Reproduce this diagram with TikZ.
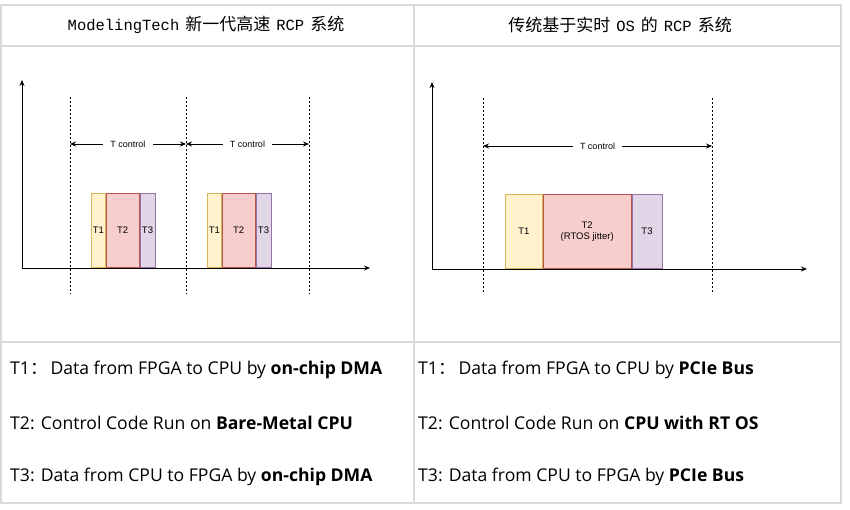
\documentclass[tikz,border=0pt]{standalone}
\usepackage{fontspec}
\setmainfont{Open Sans}
\newfontfamily\cjk{Noto Sans CJK SC}
\newfontfamily\latinmono{Liberation Mono}
\newfontfamily\diafont{Liberation Sans}
\usetikzlibrary{arrows.meta,positioning}

\definecolor{tonefill}{HTML}{FFF2CC}
\definecolor{toneline}{HTML}{D6B656}
\definecolor{ttwofill}{HTML}{F8CECC}
\definecolor{ttwoline}{HTML}{B85450}
\definecolor{tthreefill}{HTML}{E1D5E7}
\definecolor{tthreeline}{HTML}{9673A6}
\definecolor{cellline}{HTML}{D9D9D9}

% header pieces: monospaced latin, CJK a bit larger
\newcommand{\hdlatin}[1]{{\latinmono\fontsize{15.5}{18}\selectfont #1}}
\newcommand{\hdcjk}[1]{{\cjk\fontsize{17}{18}\selectfont #1}}

\tikzset{
  cell/.style={draw=cellline, line width=1.2pt},
  axis/.style={-{Stealth[length=6pt,width=5pt]}, line width=0.8pt},
  period/.style={dash pattern=on 2pt off 2pt, line width=0.7pt},
  tspan/.style={{Stealth[length=6pt,width=5pt]}-{Stealth[length=6pt,width=5pt]}, line width=0.7pt},
  spanlabel/.style={fill=white, inner xsep=7pt, inner ysep=1pt, font=\diafont\fontsize{9}{10}\selectfont},
  phase/.style={line width=0.8pt, anchor=south west, minimum height=74pt, inner sep=0pt,
    font=\diafont\fontsize{9.5}{11}\selectfont, align=center},
  phaseone/.style={phase, fill=tonefill, draw=toneline},
  phasetwo/.style={phase, fill=ttwofill, draw=ttwoline},
  phasethree/.style={phase, fill=tthreefill, draw=tthreeline},
  head/.style={inner sep=0pt},
  note/.style={anchor=west, inner sep=0pt, font=\fontsize{17.6}{20}\selectfont},
}

\begin{document}
\begin{tikzpicture}[x=1pt, y=-1pt]
    \useasboundingbox (0,0) rectangle (850,509);

    % Table frame
    \draw[cell] (1,5) rectangle (841,503);
    \draw[cell] (1,46) -- (841,46);
    \draw[cell] (1,342) -- (841,342);
    \draw[cell] (414,5) -- (414,503);

    % Column headers
    \node[head] (headleft) at (206,25)
        {\hdlatin{ModelingTech}\hspace{6pt}\hdcjk{新一代高速}\hspace{6pt}\hdlatin{RCP}\hspace{6pt}\hdcjk{系统}};
    \node[head] (headright) at (620,25)
        {\hdcjk{传统基于实时}\hspace{6pt}\hdlatin{OS}\hspace{6pt}\hdcjk{的}\hspace{6pt}\hdlatin{RCP}\hspace{6pt}\hdcjk{系统}};

    % Left timing diagram
    \coordinate (ol) at (22,268);
    \coordinate (yl) at (22,80);
    \coordinate (xl) at (370,268);
    \draw[axis] (ol) -- (yl);
    \draw[axis] (ol) -- (xl);

    \foreach \name/\x in {da/70, db/186, dc/309} {
        \coordinate (\name top) at (\x,97);
        \coordinate (\name bot) at (\x,294);
        \coordinate (\name mid) at (\x,144);
        \draw[period] (\name top) -- (\name bot);
    }
    \draw[tspan] (damid) -- (dbmid) node[midway, spanlabel] (spanl1) {T control};
    \draw[tspan] (dbmid) -- (dcmid) node[midway, spanlabel] (spanl2) {T control};

    % Two cycles: T1 / T2 / T3
    \foreach \i/\x in {1/91, 2/207} {
        \node[phaseone, minimum width=14pt] (t1l\i) at (\x,268) {T1};
        \node[phasetwo, minimum width=33pt, anchor=south west] (t2l\i) at (t1l\i.south east) {T2};
        \node[phasethree, minimum width=15pt, anchor=south west] (t3l\i) at (t2l\i.south east) {T3};
    }

    % Right timing diagram
    \coordinate (or) at (432,269);
    \coordinate (yr) at (432,82);
    \coordinate (xr) at (807,269);
    \draw[axis] (or) -- (yr);
    \draw[axis] (or) -- (xr);

    \foreach \name/\x in {ea/483, eb/712} {
        \coordinate (\name top) at (\x,98);
        \coordinate (\name bot) at (\x,294);
        \coordinate (\name mid) at (\x,146);
        \draw[period] (\name top) -- (\name bot);
    }
    \draw[tspan] (eamid) -- (ebmid) node[midway, spanlabel] (spanr) {T control};

    \node[phaseone, minimum width=37pt] (t1r) at (505,269) {T1};
    \node[phasetwo, minimum width=88pt, anchor=south west] (t2r) at (t1r.south east) {T2\\(RTOS jitter)};
    \node[phasethree, minimum width=30pt, anchor=south west] (t3r) at (t2r.south east) {T3};

    % Phase descriptions
    \node[note] (nl1) at (10,370) {T1{\cjk ：}\,Data from FPGA to CPU by \textbf{on-chip DMA}};
    \node[note] (nl2) at (10,423) {T2: Control Code Run on \textbf{Bare-Metal CPU}};
    \node[note] (nl3) at (10,477) {T3: Data from CPU to FPGA by \textbf{on-chip DMA}};

    \node[note] (nr1) at (418,370) {T1{\cjk ：}\,Data from FPGA to CPU by \textbf{PCIe Bus}};
    \node[note] (nr2) at (418,423) {T2: Control Code Run on \textbf{CPU with RT OS}};
    \node[note] (nr3) at (418,477) {T3: Data from CPU to FPGA by \textbf{PCIe Bus}};
\end{tikzpicture}
\end{document}
